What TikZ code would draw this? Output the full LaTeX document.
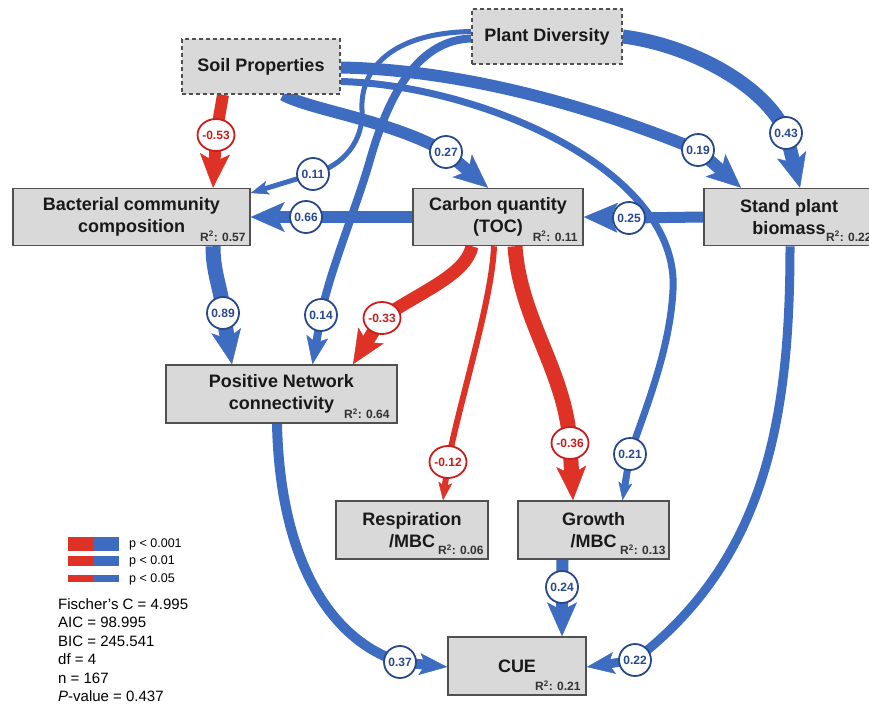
\documentclass[tikz,border=0pt]{standalone}
\usepackage{fontspec}
\setmainfont{Liberation Sans}
\usepackage{tikz}
\usetikzlibrary{arrows.meta}
\usetikzlibrary{shapes.geometric}
\definecolor{pathblue}{RGB}{61,108,192}
\definecolor{labblue}{RGB}{40,72,140}
\definecolor{pathred}{RGB}{222,50,38}
\definecolor{labred}{RGB}{200,30,30}
\definecolor{boxgray}{RGB}{217,217,217}
\definecolor{boxline}{RGB}{80,80,80}
\pgfdeclarelayer{background}
\pgfsetlayers{background,main}
\tikzset{
    observed/.style={draw=boxline, fill=boxgray, line width=1.5pt, inner sep=0pt,
        align=center, text=black!90, font=\fontsize{18}{22}\selectfont\bfseries},
    latent/.style={observed, dash pattern=on 4pt off 3pt},
    rsq/.style={inner sep=0pt, anchor=base east, text=black!80,
        font=\fontsize{12}{12}\selectfont\bfseries},
    coefpos/.style={circle, draw=labblue, fill=white, text=labblue, line width=1.8pt,
        minimum size=32pt, inner sep=0pt, font=\fontsize{12}{12}\selectfont\bfseries},
    coefneg/.style={ellipse, draw=labred, fill=white, text=labred, line width=1.8pt,
        minimum width=37pt, minimum height=32pt, inner xsep=-4pt, inner ysep=0pt,
        font=\fontsize{12}{12}\selectfont\bfseries},
    posedge/.style={draw=pathblue, line width=#1, line join=round},
    negedge/.style={draw=pathred, line width=#1, line join=round},
    bigtip/.style={-{Stealth[length=34pt,width=30pt,inset=8pt,line width=0.5pt]}},
    midtip/.style={-{Stealth[length=28pt,width=22pt,inset=6pt,line width=0.5pt]}},
    smalltip/.style={-{Stealth[length=18pt,width=14pt,inset=4pt,line width=0.5pt]}},
    legtext/.style={anchor=west, inner sep=0pt, font=\fontsize{12.5}{14}\selectfont},
}

\begin{document}
\begin{tikzpicture}[x=1pt, y=-1pt]
	\useasboundingbox (0,0) rectangle (869,704);
	% variables
	\node[latent, minimum width=158pt, minimum height=55pt] (soil) at (261,66.5) {Soil Properties};
	\node[latent, minimum width=150pt, minimum height=55pt] (pd) at (547,36.5) {Plant Diversity};
	\node[observed, minimum width=237pt, minimum height=57pt] (bac) at (131.5,217) {Bacterial community\\composition};
	\node[observed, minimum width=170pt, minimum height=57pt] (toc) at (498,217) {Carbon quantity\\(TOC)};
	\node[observed, minimum width=170pt, minimum height=57pt] (stand) at (789,217) {Stand plant\\biomass};
	\node[observed, minimum width=231pt, minimum height=58pt] (pn) at (281.5,394) {Positive Network\\connectivity};
	\node[observed, minimum width=152pt, minimum height=58pt] (resp) at (412,530) {Respiration\\/MBC};
	\node[observed, minimum width=151pt, minimum height=58pt] (growth) at (593.5,530) {Growth\\/MBC};
	\node[observed, minimum width=138pt, minimum height=58pt] (cue) at (517,666) {CUE};
	\node[rsq] (rbac) at ([xshift=-5pt,yshift=5pt]bac.south east) {R\textsuperscript{2}: 0.57};
	\node[rsq] (rtoc) at ([xshift=-6pt,yshift=5pt]toc.south east) {R\textsuperscript{2}: 0.11};
	\node[rsq] (rstand) at ([xshift=-3pt,yshift=5pt]stand.south east) {R\textsuperscript{2}: 0.22};
	\node[rsq] (rpn) at ([xshift=-8pt,yshift=5pt]pn.south east) {R\textsuperscript{2}: 0.64};
	\node[rsq] (rresp) at ([xshift=-5pt,yshift=5pt]resp.south east) {R\textsuperscript{2}: 0.06};
	\node[rsq] (rgrowth) at ([xshift=-4pt,yshift=5pt]growth.south east) {R\textsuperscript{2}: 0.13};
	\node[rsq] (rcue) at ([xshift=-6pt,yshift=5pt]cue.south east) {R\textsuperscript{2}: 0.21};
	% path coefficients
	\node[coefneg] (c053) at (216,135) {-0.53};
	\node[coefpos] (c027) at (446,152) {0.27};
	\node[coefpos] (c019) at (698,150) {0.19};
	\node[coefpos] (c043) at (786,133) {0.43};
	\node[coefpos] (c011) at (313,174) {0.11};
	\node[coefpos] (c066) at (306,217) {0.66};
	\node[coefpos] (c025) at (629,218) {0.25};
	\node[coefpos] (c089) at (223,313) {0.89};
	\node[coefpos] (c014) at (321,315) {0.14};
	\node[coefneg] (c033) at (382,318) {-0.33};
	\node[coefneg] (c012) at (448,462) {-0.12};
	\node[coefneg] (c036) at (570,443) {-0.36};
	\node[coefpos] (c021) at (630,454) {0.21};
	\node[coefpos] (c024) at (562,587) {0.24};
	\node[coefpos] (c037) at (400,662) {0.37};
	\node[coefpos] (c022) at (635,660) {0.22};
\begin{pgfonlayer}{background}
	\draw[posedge=7pt, smalltip] ([yshift=-15pt]soil.east) .. controls (480,85) and (680,170) .. (673,290)
		.. controls (670,350) and (645,410) .. (c021.center) -- ([xshift=29pt]growth.north);
	\draw[posedge=12pt, bigtip] ([yshift=-1pt]soil.east) .. controls (470,70) and (600,110) .. (c019.center) -- ([xshift=-48pt]stand.north);
	\draw[posedge=12pt, bigtip] ([xshift=22pt]soil.south) .. controls (310,110) and (390,120) .. (c027.center) -- ([xshift=-10pt]toc.north);
	\draw[negedge=12pt, bigtip] ([xshift=-38pt]soil.south) -- (c053.center) -- ([xshift=81.5pt]bac.north);
	\draw[posedge=14pt, bigtip] (pd.east) .. controls (690,45) and (765,85) .. (c043.center) -- ([xshift=11pt]stand.north);
	\draw[posedge=5pt, smalltip] ([yshift=5pt]pd.west) .. controls (390,33) and (360,70) .. (362,110)
		.. controls (363.5,140) and (345,165) .. (c011.center) -- ([yshift=24pt]bac.east);
	\draw[posedge=8pt, midtip] ([yshift=-2pt]pd.west) .. controls (420,40) and (390,90) .. (370,160)
		.. controls (356,209) and (330,270) .. (c014.center) -- ([xshift=31pt]pn.north);
	\draw[posedge=12pt, bigtip] (toc.west) -- (c066.center) -- (bac.east);
	\draw[posedge=11pt, bigtip] (stand.west) -- (c025.center) -- (toc.east);
	\draw[posedge=15pt, bigtip] ([xshift=81.5pt]bac.south) .. controls (213,275) and (222,290) .. (c089.center) -- ([xshift=-49.5pt]pn.north);
	\draw[negedge=13pt, bigtip] ([xshift=-26pt]toc.south) .. controls (466,275) and (420,292) .. (c033.center) -- ([xshift=71.5pt]pn.north);
	\draw[negedge=6pt, smalltip] ([xshift=-4pt]toc.south) .. controls (492,300) and (460,400) .. (c012.center) -- ([xshift=31pt]resp.north);
	\draw[negedge=15pt, bigtip] ([xshift=17pt]toc.south) .. controls (520,320) and (565,370) .. (c036.center) -- ([xshift=-20.5pt]growth.north);
	\draw[posedge=9pt, midtip] ([xshift=1pt]stand.south) .. controls (790,420) and (765,560) .. (c022.center) -- ([yshift=-1pt]cue.east);
	\draw[posedge=10pt, midtip] ([xshift=-4.5pt]pn.south) .. controls (280,560) and (330,640) .. (c037.center) -- ([yshift=-1pt]cue.west);
	\draw[posedge=12pt, bigtip] ([xshift=-31pt]growth.south) -- (c024.center) -- ([xshift=45pt]cue.north);
\end{pgfonlayer}
	% legend
	\fill[pathred] (68,537) rectangle (93,551);
	\fill[pathblue] (93,537) rectangle (119,551);
	\fill[pathred] (68,556) rectangle (93,566);
	\fill[pathblue] (93,556) rectangle (119,566);
	\fill[pathred] (68,575) rectangle (93,582);
	\fill[pathblue] (93,575) rectangle (119,582);
	\node[legtext] (p1) at (129,544) {p < 0.001};
	\node[legtext] (p2) at (129,561) {p < 0.01};
	\node[legtext] (p3) at (129,579) {p < 0.05};
	\node[anchor=north west, inner sep=0pt, align=left, font=\fontsize{15}{18.4}\selectfont] (fit) at (58,598.5)
		{Fischer’s C = 4.995\\AIC = 98.995\\BIC = 245.541\\df = 4\\n = 167\\\textit{P}-value = 0.437};
\end{tikzpicture}
\end{document}
